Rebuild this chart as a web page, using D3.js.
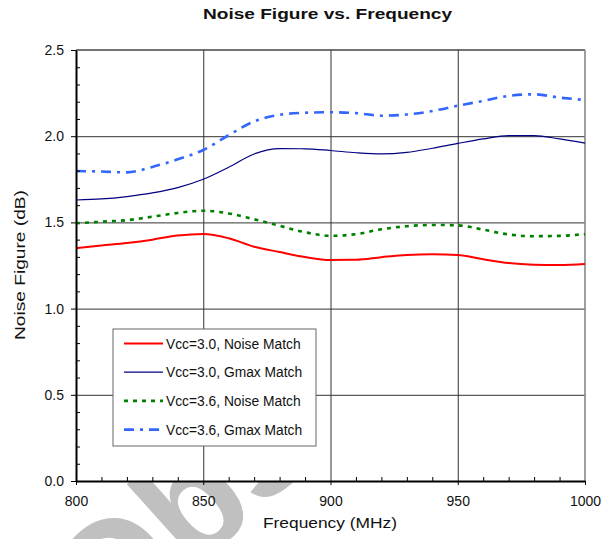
<!DOCTYPE html>
<html>
<head>
<meta charset="utf-8">
<script src="https://cdn.jsdelivr.net/npm/d3@7"></script>
<style>
  html, body { margin: 0; padding: 0; background: #fff; }
  svg { display: block; font-family: "Liberation Sans", Arial, sans-serif; }
</style>
</head>
<body>
<svg id="chart" width="610" height="539"></svg>
<script>
// Frequency sweep (MHz) shared by all four curves
const freqs = [800, 810, 820, 830, 840, 850, 860, 870, 880, 890, 900,
               910, 920, 930, 940, 950, 960, 970, 980, 990, 1000];

// Noise figure (dB) per bias / match condition
const nf30Noise = [1.350, 1.366, 1.381, 1.400, 1.424, 1.433, 1.408, 1.359, 1.328, 1.299, 1.282,
                   1.283, 1.298, 1.311, 1.315, 1.311, 1.286, 1.264, 1.255, 1.253, 1.259];
const nf30Gmax  = [1.630, 1.636, 1.650, 1.671, 1.702, 1.750, 1.820, 1.897, 1.928, 1.927, 1.917,
                   1.904, 1.897, 1.906, 1.930, 1.958, 1.984, 2.003, 2.003, 1.984, 1.960];
const nf36Noise = [1.495, 1.504, 1.513, 1.533, 1.555, 1.568, 1.552, 1.518, 1.480, 1.443, 1.422,
                   1.432, 1.460, 1.478, 1.485, 1.483, 1.458, 1.430, 1.420, 1.422, 1.432];
const nf36Gmax  = [1.798, 1.795, 1.790, 1.822, 1.866, 1.920, 2.006, 2.086, 2.124, 2.136, 2.139,
                   2.134, 2.119, 2.126, 2.146, 2.177, 2.205, 2.234, 2.243, 2.224, 2.210];

const seriesNames = ["Vcc=3.0, Noise Match", "Vcc=3.0, Gmax Match",
                     "Vcc=3.6, Noise Match", "Vcc=3.6, Gmax Match"];
const seriesValues = [nf30Noise, nf30Gmax, nf36Noise, nf36Gmax];

const xMajorTicks = [800, 850, 900, 950, 1000];
const yMajorTicks = [0.0, 0.5, 1.0, 1.5, 2.0, 2.5];

const titleText = "Noise Figure vs. Frequency";
const xTitle = "Frequency (MHz)";
const yTitle = "Noise Figure (dB)";
const watermarkText = "Obsolete";

// ---- drawing ----
const styles = [
  { color: "#ff0000", width: 2.0, dash: null },
  { color: "#000080", width: 1.2, dash: null },
  { color: "#008000", width: 2.6, dash: "4,5" },
  { color: "#3366ff", width: 2.6, dash: "10,6,3,6" }
];

const svg = d3.select("#chart");
const x = d3.scaleLinear().domain([800, 1000]).range([76, 585]);
const y = d3.scaleLinear().domain([0, 2.5]).range([481, 50]);
const [x0, x1] = x.range();
const [y0, y1] = y.range();

// background watermark, covered by the plot area
svg.append("text")
  .attr("transform", "translate(105,650) rotate(-42)")
  .attr("font-size", 150)
  .attr("font-weight", "bold")
  .attr("fill", "#c0c0c0")
  .text(watermarkText);

// plot area fill
svg.append("rect")
  .attr("x", x0).attr("y", y1)
  .attr("width", x1 - x0).attr("height", y0 - y1)
  .attr("fill", "#fff");

// major grid
const grid = svg.append("g");
grid.append("g")
  .attr("transform", `translate(0,${y0})`)
  .call(d3.axisBottom(x).tickValues(xMajorTicks.slice(1, -1)).tickSize(-(y0 - y1)).tickFormat(""))
  .call(g => g.select(".domain").remove())
  .call(g => g.selectAll("line").attr("stroke", "#333").attr("stroke-width", 1));
grid.append("g")
  .attr("transform", `translate(${x0},0)`)
  .call(d3.axisLeft(y).tickValues(yMajorTicks.slice(1, -1)).tickSize(-(x1 - x0)).tickFormat(""))
  .call(g => g.select(".domain").remove())
  .call(g => g.selectAll("line").attr("stroke", "#333").attr("stroke-width", 1));

// frame: top and right edges
svg.append("line").attr("x1", x0).attr("x2", x1).attr("y1", y1).attr("y2", y1)
  .attr("stroke", "#444").attr("stroke-width", 1.6);
svg.append("line").attr("x1", x1).attr("x2", x1).attr("y1", y1).attr("y2", y0)
  .attr("stroke", "#888").attr("stroke-width", 1.6);

// series lines
const line = d3.line()
  .x(d => x(d[0]))
  .y(d => y(d[1]))
  .curve(d3.curveMonotoneX);

seriesValues.forEach((vals, i) => {
  const st = styles[i];
  svg.append("path")
    .datum(freqs.map((f, k) => [f, vals[k]]))
    .attr("fill", "none")
    .attr("stroke", st.color)
    .attr("stroke-width", st.width)
    .attr("stroke-dasharray", st.dash)
    .attr("d", line);
});

// minor ticks (inside)
const xMinor = d3.range(810, 1000, 10).filter(v => v % 50 !== 0);
svg.append("g")
  .attr("transform", `translate(0,${y0})`)
  .call(d3.axisTop(x).tickValues(xMinor).tickSize(4).tickFormat(""))
  .call(g => g.select(".domain").remove())
  .call(g => g.selectAll("line").attr("stroke", "#000"));
const yMinor = d3.range(1, 25).map(v => v / 10).filter(v => Math.round(v * 10) % 5 !== 0);
svg.append("g")
  .attr("transform", `translate(${x0},0)`)
  .call(d3.axisRight(y).tickValues(yMinor).tickSize(4).tickFormat(""))
  .call(g => g.select(".domain").remove())
  .call(g => g.selectAll("line").attr("stroke", "#000"));

// major axes with labels
const xAxis = svg.append("g")
  .attr("transform", `translate(0,${y0})`)
  .call(d3.axisBottom(x).tickValues(xMajorTicks).tickSize(4).tickSizeOuter(0).tickPadding(11).tickFormat(d3.format("d")));
xAxis.select(".domain").attr("stroke", "#000").attr("stroke-width", 2);
xAxis.selectAll("line").attr("stroke", "#000");
xAxis.selectAll("text").attr("font-size", 14).attr("fill", "#111")
  .attr("font-family", "Liberation Sans, Arial, sans-serif");

const yAxis = svg.append("g")
  .attr("transform", `translate(${x0},0)`)
  .call(d3.axisLeft(y).tickValues(yMajorTicks).tickSize(5).tickSizeOuter(0).tickPadding(7).tickFormat(d3.format(".1f")));
yAxis.select(".domain").attr("stroke", "#000").attr("stroke-width", 2);
yAxis.selectAll("line").attr("stroke", "#000");
yAxis.selectAll("text").attr("font-size", 14).attr("fill", "#111")
  .attr("font-family", "Liberation Sans, Arial, sans-serif");

// titles
svg.append("text")
  .attr("x", 327.5).attr("y", 19)
  .attr("text-anchor", "middle")
  .attr("font-size", 15.5).attr("font-weight", "bold").attr("fill", "#111")
  .attr("textLength", 249).attr("lengthAdjust", "spacingAndGlyphs")
  .text(titleText);
svg.append("text")
  .attr("x", 330).attr("y", 528)
  .attr("text-anchor", "middle")
  .attr("font-size", 15.5).attr("fill", "#111")
  .attr("textLength", 134).attr("lengthAdjust", "spacingAndGlyphs")
  .text(xTitle);
svg.append("text")
  .attr("transform", "translate(25,265) rotate(-90)")
  .attr("text-anchor", "middle")
  .attr("font-size", 15.5).attr("fill", "#111")
  .attr("textLength", 150).attr("lengthAdjust", "spacingAndGlyphs")
  .text(yTitle);

// legend
const legend = svg.append("g");
legend.append("rect")
  .attr("x", 113).attr("y", 329).attr("width", 203).attr("height", 117)
  .attr("fill", "#fff").attr("stroke", "#666").attr("stroke-width", 1);
seriesNames.forEach((name, i) => {
  const ly = 343.5 + i * 28.7;
  const st = styles[i];
  legend.append("line")
    .attr("x1", 124).attr("x2", 163).attr("y1", ly).attr("y2", ly)
    .attr("stroke", st.color).attr("stroke-width", st.width)
    .attr("stroke-dasharray", st.dash);
  legend.append("text")
    .attr("x", 166).attr("y", ly + 5)
    .attr("font-size", 13.8).attr("fill", "#111")
    .text(name);
});
</script>
</body>
</html>
